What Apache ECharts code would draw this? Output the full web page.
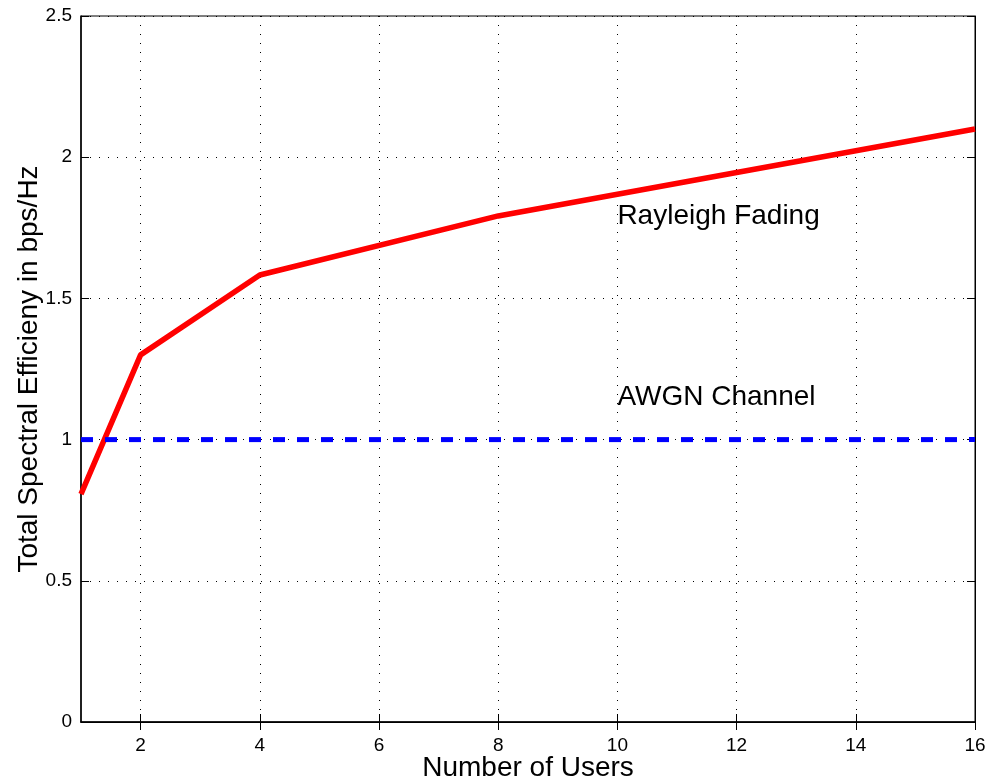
<!DOCTYPE html>
<html>
<head>
<meta charset="utf-8">
<script src="https://cdn.jsdelivr.net/npm/echarts@6/dist/echarts.min.js"></script>
<style>
  html, body { margin: 0; padding: 0; background: #fff; }
  #chart { width: 989px; height: 782px; }
</style>
</head>
<body>
<div id="chart"></div>
<script>
// number of users and spectral efficiency
var users = [1, 2, 4, 8, 16];
var rayleigh = [0.807, 1.30, 1.583, 1.792, 2.10];
var awgnUsers = [1, 16];
var awgn = [1, 1];
var xTicks = [2, 4, 6, 8, 10, 12, 14, 16];
// text annotations: [x, y, text]
var notes = [[10, 1.79, 'Rayleigh Fading'], [10, 1.15, 'AWGN Channel']];

var font = 'Liberation Sans, Arial, Helvetica, sans-serif';
var myChart = echarts.init(document.getElementById('chart'), null, { renderer: 'canvas' });

function pairs(xs, ys) {
    return xs.map(function (x, i) { return [x, ys[i]]; });
}

var gridLine = { show: true, lineStyle: { color: '#000', type: [1, 8], width: 1 } };
var tickIn = { show: true, inside: true, length: 8, lineStyle: { color: '#000' } };

myChart.setOption({
    animation: false,
    grid: {
        left: 81, right: 14, top: 16, bottom: 60,
        outerBoundsMode: 'none',
        containLabel: false,
        show: true, borderColor: '#000', borderWidth: 1, backgroundColor: '#fff'
    },
    xAxis: [{
        type: 'value',
        min: 1, max: 16,
        name: 'Number of Users',
        nameLocation: 'middle',
        nameGap: 32,
        nameMoveOverlap: false,
        nameTextStyle: { fontFamily: font, fontSize: 28, color: '#000' },
        axisLine: { show: true, onZero: false, lineStyle: { color: '#000', width: 1.5 } },
        axisTick: Object.assign({ customValues: xTicks }, tickIn),
        axisLabel: { customValues: xTicks, fontFamily: font, fontSize: 19, color: '#000', margin: 14 },
        splitLine: gridLine
    }, {
        type: 'value', position: 'top',
        min: 1, max: 16,
        axisLine: { show: true, lineStyle: { color: '#000' } },
        axisTick: Object.assign({ customValues: xTicks }, tickIn),
        axisLabel: { show: false },
        splitLine: { show: false }
    }],
    yAxis: [{
        type: 'value',
        min: 0, max: 2.5, interval: 0.5,
        name: 'Total Spectral Efficieny in bps/Hz',
        nameLocation: 'middle',
        nameGap: 38,
        nameMoveOverlap: false,
        nameTextStyle: { fontFamily: font, fontSize: 28, color: '#000' },
        axisLine: { show: true, onZero: false, lineStyle: { color: '#000', width: 1.5 } },
        axisTick: tickIn,
        axisLabel: { fontFamily: font, fontSize: 19, color: '#000', margin: 9 },
        splitLine: gridLine
    }, {
        type: 'value', position: 'right',
        min: 0, max: 2.5, interval: 0.5,
        axisLine: { show: true, lineStyle: { color: '#000' } },
        axisTick: tickIn,
        axisLabel: { show: false },
        splitLine: { show: false }
    }],
    series: [{
        name: 'Rayleigh Fading',
        type: 'line',
        data: pairs(users, rayleigh),
        showSymbol: false,
        symbol: 'none',
        lineStyle: { color: '#ff0000', width: 5.5 },
        z: 3
    }, {
        name: 'AWGN Channel',
        type: 'line',
        data: pairs(awgnUsers, awgn),
        showSymbol: false,
        symbol: 'none',
        lineStyle: { color: '#0000ff', width: 5, type: [12, 12] },
        z: 4
    }, {
        name: 'notes',
        type: 'scatter',
        data: notes.map(function (n) { return { value: [n[0], n[1]], name: n[2] }; }),
        symbolSize: 0,
        itemStyle: { opacity: 1 },
        label: {
            show: true,
            position: 'right',
            distance: 0,
            formatter: '{b}',
            fontFamily: font,
            fontSize: 28,
            color: '#000'
        },
        z: 5
    }]
});
</script>
</body>
</html>
